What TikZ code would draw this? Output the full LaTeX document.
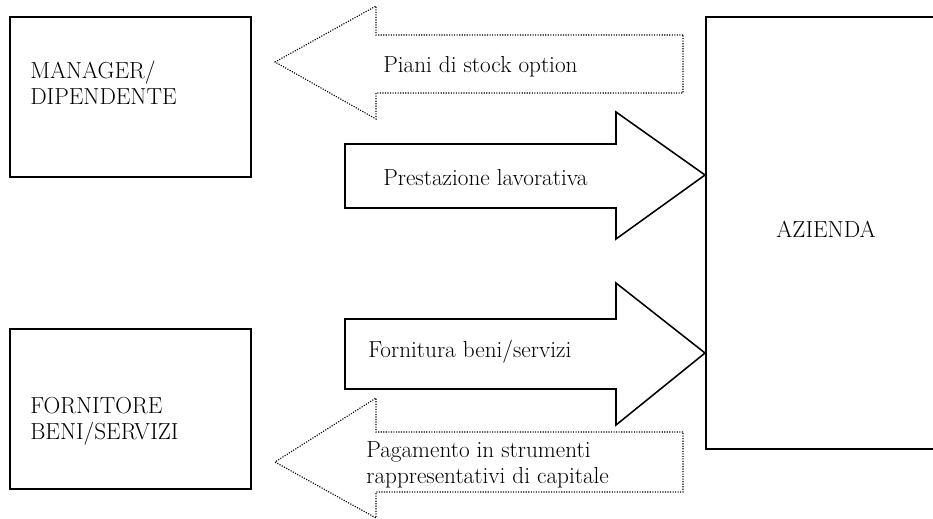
\documentclass[tikz,border=0pt]{standalone}
\usepackage{tikz}
\usetikzlibrary{positioning}

\tikzset{
    box/.style={draw, line width=1.2pt, rectangle, anchor=north west},
    txt/.style={font=\fontsize{16.5}{18.5}\selectfont, inner sep=0pt, align=left},
    fullarrow/.style={draw, line width=1.1pt, line join=miter},
    dotarrow/.style={draw, line width=0.8pt, dash pattern=on 0.8pt off 1pt}
}

\begin{document}
\begin{tikzpicture}[x=0.025cm, y=-0.025cm]
        \useasboundingbox (0,0) rectangle (933,519);
        \begin{scope}
            % boxes
            \node [box, minimum width=6.025cm, minimum height=4cm] (mgr) at (9,16) {};
            \node [box, minimum width=6.025cm, minimum height=4cm] (forn) at (9,328) {};
            \node [box, minimum width=6cm, minimum height=10.8cm] (az) at (705,16) {};
            \node [txt, anchor=west] (mgrtxt) at (30,83) {MANAGER/\\DIPENDENTE};
            \node [txt, anchor=west] (forntxt) at (30,421) {FORNITORE\\BENI/SERVIZI};
            \node [txt] (aztxt) at (826,229) {AZIENDA};

            % block arrows
            \draw [dotarrow] (683,35) -- (376,35) -- (376,6) -- (275,62) -- (376,119) -- (376,93) -- (683,93) -- cycle;
            \draw [fullarrow] (345,144) -- (616,144) -- (616,112) -- (az.west |- 0,175) -- (616,239) -- (616,208) -- (345,208) -- cycle;
            \draw [fullarrow] (345,319) -- (616,319) -- (616,283) -- (az.west |- 0,353) -- (616,425) -- (616,389) -- (345,389) -- cycle;
            \draw [dotarrow] (683,432) -- (376,432) -- (376,398) -- (275,462) -- (376,518) -- (376,492) -- (683,492) -- cycle;

            \node [txt, anchor=west] (piani) at (383,67) {Piani di stock option};
            \node [txt, anchor=west] (prest) at (383,178) {Prestazione lavorativa};
            \node [txt, anchor=west] (fornit) at (368,352) {Fornitura beni/servizi};
            \node [txt, anchor=west] (pagam) at (366,465) {Pagamento in strumenti\\rappresentativi di capitale};
        \end{scope}

    \end{tikzpicture}
\end{document}
